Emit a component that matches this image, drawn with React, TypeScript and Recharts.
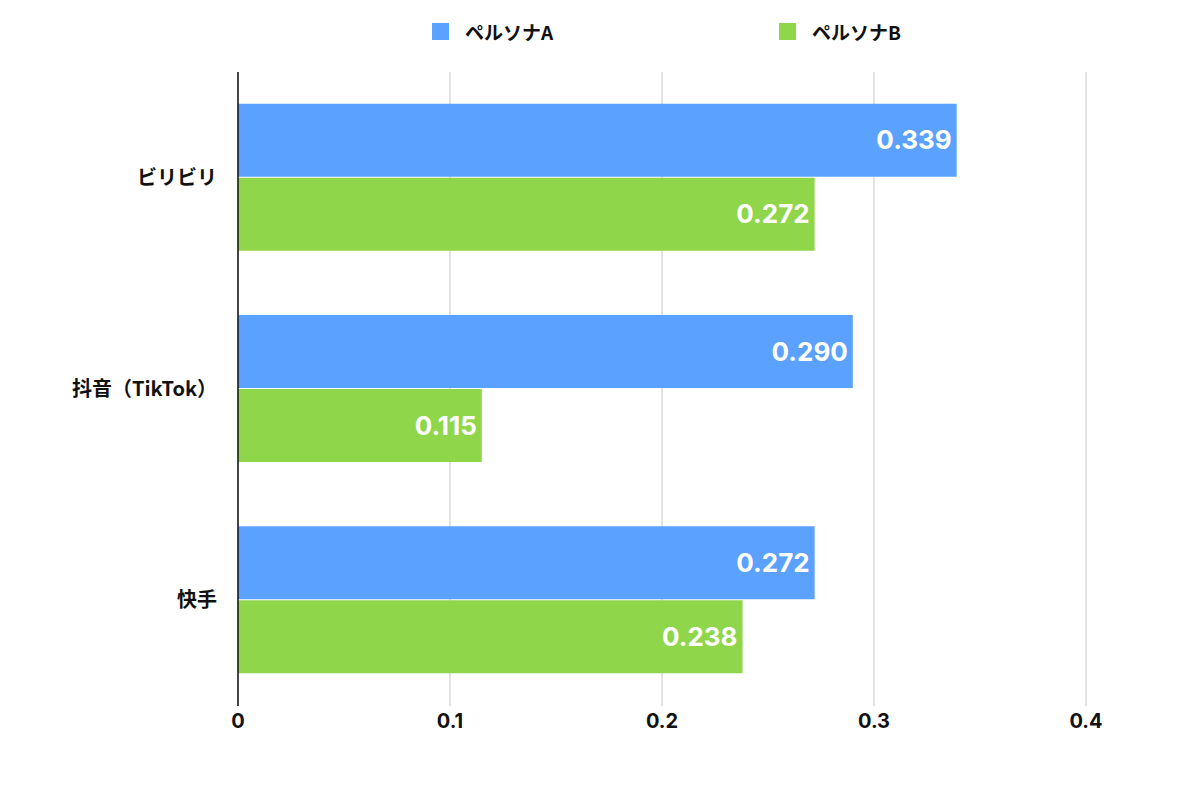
import React from "react";
import {
  BarChart,
  Bar,
  XAxis,
  YAxis,
  CartesianGrid,
  Legend,
  LabelList,
} from "recharts";

const platforms = ["ビリビリ", "抖音（TikTok）", "快手"];
const personaA = [0.339, 0.29, 0.272];
const personaB = [0.272, 0.115, 0.238];
const xTicks = [0, 0.1, 0.2, 0.3, 0.4];

const seriesNames = ["ペルソナA", "ペルソナB"];
const blue = "#5BA1FF";
const green = "#90D64B";
const font = "'Noto Sans CJK JP', 'Noto Sans', sans-serif";
const numFont = "Inter, 'Noto Sans CJK JP', sans-serif";

if (typeof document !== "undefined") {
  document.body.style.margin = "0";
}

const data = platforms.map((name, i) => ({
  name,
  a: personaA[i],
  b: personaB[i],
}));

const LegendBox = (props: any) => {
  const items = props.payload || [];
  return (
    <div
      style={{
        height: 60,
        display: "flex",
        justifyContent: "flex-start",
        paddingLeft: 432,
        paddingTop: 8,
        boxSizing: "border-box",
        fontFamily: font,
        fontWeight: 700,
        fontSize: 19,
        color: "#111",
      }}
    >
      {items.map((it: any, i: number) => (
        <div
          key={i}
          style={{
            display: "flex",
            alignItems: "center",
            height: 22,
            width: i === 0 ? 347 : "auto",
          }}
        >
          <span
            style={{
              display: "inline-block",
              width: 17,
              height: 17,
              background: it.color,
              marginRight: 16,
            }}
          />
          <span>{it.value}</span>
        </div>
      ))}
    </div>
  );
};

const App = () => {
  return (
    <div style={{ width: 1200, height: 788, background: "#fff" }}>
      <BarChart
        width={1200}
        height={788}
        data={data}
        layout="vertical"
        margin={{ top: 12, right: 114, left: 0, bottom: 0 }}
        barCategoryGap="15%"
        barGap={1}
      >
        <CartesianGrid horizontal={false} stroke="#d9d9d9" strokeWidth={1.5} />
        <XAxis
          type="number"
          domain={[0, 0.4]}
          ticks={xTicks}
          axisLine={false}
          tickLine={false}
          tickMargin={2}
          height={82}
          tick={{
            fill: "#111",
            fontSize: 20,
            fontWeight: 700,
            fontFamily: numFont,
          }}
        />
        <YAxis
          type="category"
          dataKey="name"
          width={238}
          axisLine={{ stroke: "#111", strokeWidth: 1.5 }}
          tickLine={false}
          tickMargin={15}
          tick={{
            fill: "#111",
            fontSize: 20,
            fontWeight: 700,
            fontFamily: font,
          }}
        />
        <Legend
          verticalAlign="top"
          align="center"
          height={60}
          content={<LegendBox />}
        />
        <Bar
          dataKey="a"
          name={seriesNames[0]}
          fill={blue}
          isAnimationActive={false}
        >
          <LabelList
            dataKey="a"
            position="insideRight"
            fill="#fff"
            fontSize={26}
            fontWeight={700}
            fontFamily={numFont}
            formatter={(v: any) => Number(v).toFixed(3)}
          />
        </Bar>
        <Bar
          dataKey="b"
          name={seriesNames[1]}
          fill={green}
          isAnimationActive={false}
        >
          <LabelList
            dataKey="b"
            position="insideRight"
            fill="#fff"
            fontSize={26}
            fontWeight={700}
            fontFamily={numFont}
            formatter={(v: any) => Number(v).toFixed(3)}
          />
        </Bar>
      </BarChart>
    </div>
  );
};

export default App;
